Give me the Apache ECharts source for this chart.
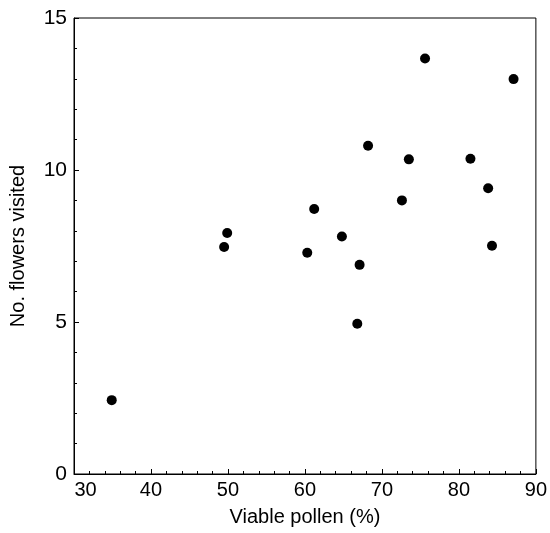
<!DOCTYPE html>
<html><head><meta charset="utf-8">
<script src="https://cdn.jsdelivr.net/npm/echarts@6/dist/echarts.min.js"></script>
<style>html,body{margin:0;padding:0;background:#fff}#c{width:550px;height:533px}</style>
</head><body><div id="c"></div>
<script>
const viablePollen = [34.9, 49.5, 49.9, 60.3, 61.2, 64.8, 66.8, 67.1, 68.2, 72.6, 73.5, 75.6, 81.5, 83.8, 84.3, 87.1];
const flowersVisited = [2.43, 7.47, 7.93, 7.28, 8.72, 7.81, 4.94, 6.88, 10.8, 9.0, 10.35, 13.67, 10.37, 9.40, 7.51, 12.99];
const xTicks = [30, 40, 50, 60, 70, 80, 90];
const yTicks = [0, 5, 10, 15];

const data = viablePollen.map((v, i) => [v, flowersVisited[i]]);
const font = 'Liberation Sans, Arial, sans-serif';
const xMin = xTicks[0], xMax = xTicks[xTicks.length - 1];
const yMin = yTicks[0], yMax = yTicks[yTicks.length - 1];
const minorAxis = (min, max, interval, position) => ({
  type: 'value', min: min, max: max, interval: interval, position: position,
  axisLine: {show: false}, axisLabel: {show: false}, splitLine: {show: false},
  axisTick: {show: true, inside: true, length: 3, lineStyle: {color: '#000'}}
});
const chart = echarts.init(document.getElementById('c'));
chart.setOption({
  animation: false,
  grid: {left: 74, right: 11, top: 18, bottom: 59, show: true, borderColor: '#000', borderWidth: 1},
  xAxis: [{
    type: 'value', min: xMin, max: xMax, interval: 10, position: 'bottom',
    name: 'Viable pollen (%)', nameLocation: 'middle', nameGap: 33,
    nameTextStyle: {fontFamily: font, fontSize: 20, color: '#000'},
    axisLine: {show: true, lineStyle: {color: '#000', width: 1}},
    axisTick: {show: true, inside: true, length: 5, lineStyle: {color: '#000'}},
    splitLine: {show: false},
    axisLabel: {
      fontFamily: font, fontSize: 20, color: '#000', margin: 6,
      formatter: v => v === 30 ? '{a|30}' : String(v),
      rich: {a: {fontFamily: font, fontSize: 20, color: '#000', padding: [0, 0, 0, 23]}}
    }
  }, minorAxis(xMin, xMax, 2, 'bottom')],
  yAxis: [{
    type: 'value', min: yMin, max: yMax, interval: 5, position: 'left',
    name: 'No. flowers visited', nameLocation: 'middle', nameGap: 46,
    nameTextStyle: {fontFamily: font, fontSize: 20, color: '#000'},
    axisLine: {show: true, lineStyle: {color: '#000', width: 1}},
    axisTick: {show: true, inside: true, length: 5, lineStyle: {color: '#000'}},
    splitLine: {show: false},
    axisLabel: {fontFamily: font, fontSize: 21, color: '#000', margin: 7}
  }, minorAxis(yMin, yMax, 1, 'left')],
  series: [{
    type: 'scatter', data: data, symbol: 'circle', symbolSize: 10,
    xAxisIndex: 0, yAxisIndex: 0,
    itemStyle: {color: '#000', opacity: 1}
  }]
});
</script></body></html>
